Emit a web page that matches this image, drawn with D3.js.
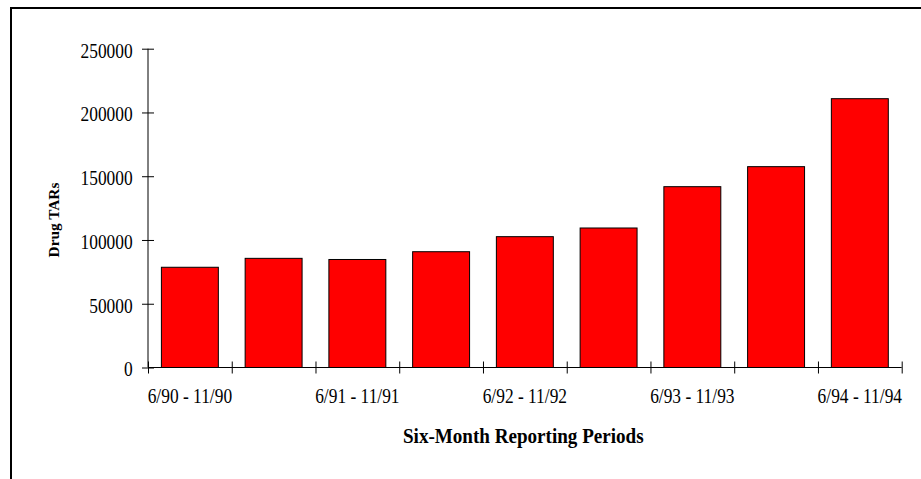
<!DOCTYPE html>
<html>
<head>
<meta charset="utf-8">
<title>Drug TARs</title>
<script src="https://d3js.org/d3.v7.min.js"></script>
<style>
body { margin: 0; background: #fff; }
svg { display: block; }
</style>
</head>
<body>
<svg width="921" height="479"></svg>
<script>
// six-month periods, only every other one gets a label
var periods = ["6/90 - 11/90", "12/90 - 5/91", "6/91 - 11/91", "12/91 - 5/92", "6/92 - 11/92",
               "12/92 - 5/93", "6/93 - 11/93", "12/93 - 5/94", "6/94 - 11/94"];
var shownLabels = ["6/90 - 11/90", "6/91 - 11/91", "6/92 - 11/92", "6/93 - 11/93", "6/94 - 11/94"];
var drugTARs = [78600, 85600, 84700, 90800, 102600, 109400, 141800, 157500, 210800];
var yTicks = [0, 50000, 100000, 150000, 200000, 250000];

var svg = d3.select("svg");
var serif = "'Liberation Serif', 'Times New Roman', serif";
var stretch = 1.15; // text in the original is a bit taller than wide

// outer frame (right and bottom edges fall off the picture)
svg.append("rect")
  .attr("x", 11).attr("y", 8)
  .attr("width", 940).attr("height", 520)
  .attr("fill", "none").attr("stroke", "#000").attr("stroke-width", 2);

// plot area edges (note: "top" is taken by window.top)
var pLeft = 148, pRight = 901.7, pTop = 48.7, pBottom = 367.5;

var x = d3.scaleBand().domain(periods).range([pLeft, pRight])
  .paddingInner(0.32).paddingOuter(0.16);
var xEdges = d3.scaleLinear().domain([0, periods.length]).range([pLeft, pRight]);
var y = d3.scaleLinear().domain([0, 250000]).range([pBottom, pTop]);

// bars
svg.selectAll("rect.bar").data(drugTARs).enter().append("rect")
  .attr("class", "bar")
  .attr("x", function(d, i) { return x(periods[i]); })
  .attr("y", function(d) { return y(d); })
  .attr("width", x.bandwidth())
  .attr("height", function(d) { return y(0) - y(d); })
  .attr("fill", "#ff0000")
  .attr("stroke", "#000")
  .attr("stroke-width", 1);

// y axis
var yAxis = svg.append("g")
  .attr("transform", "translate(" + pLeft + ",0)")
  .call(d3.axisLeft(y).tickValues(yTicks).tickSize(6).tickFormat(d3.format("d")));
yAxis.select(".domain").attr("d", "M0," + y(250000) + "V" + y(0));
yAxis.selectAll(".tick line").attr("x2", -6).attr("x1", 6);
yAxis.attr("font-size", 17.4).attr("font-family", serif);
yAxis.selectAll(".tick text")
  .attr("x", 0).attr("dy", null)
  .style("font-family", serif)
  .attr("transform", "translate(-15.3,8.4) scale(1," + stretch + ")");

// x axis: tick marks at band edges
var xAxis = svg.append("g")
  .attr("transform", "translate(0," + pBottom + ")")
  .call(d3.axisBottom(xEdges).tickValues(d3.range(periods.length + 1)).tickSize(6).tickFormat(""));
xAxis.select(".domain").attr("d", "M" + pLeft + ",0H" + pRight);
xAxis.selectAll(".tick line").attr("y1", -6).attr("y2", 6);

// x labels on every other band
var xLab = svg.append("g")
  .attr("transform", "translate(0," + pBottom + ")")
  .call(d3.axisBottom(x).tickSize(0).tickFormat(function(d) {
    return shownLabels.indexOf(d) >= 0 ? d : "";
  }));
xLab.select(".domain").remove();
xLab.attr("font-size", 17.4).attr("font-family", serif);
xLab.selectAll(".tick text")
  .attr("y", 0).attr("dy", null)
  .style("font-family", serif)
  .attr("transform", "translate(0,35.6) scale(1," + stretch + ")");

svg.selectAll(".domain, .tick line").attr("stroke", "#000");

// axis titles
svg.append("text")
  .attr("transform", "translate(58.5,220) scale(1,1.08) rotate(-90)")
  .attr("text-anchor", "middle")
  .style("font-family", serif)
  .attr("font-weight", "bold")
  .attr("font-size", 14.2)
  .text("Drug TARs");

svg.append("text")
  .attr("transform", "translate(523.3,443.3) scale(1,1.13)")
  .attr("text-anchor", "middle")
  .style("font-family", serif)
  .attr("font-weight", "bold")
  .attr("font-size", 19.1)
  .text("Six-Month Reporting Periods");
</script>
</body>
</html>
